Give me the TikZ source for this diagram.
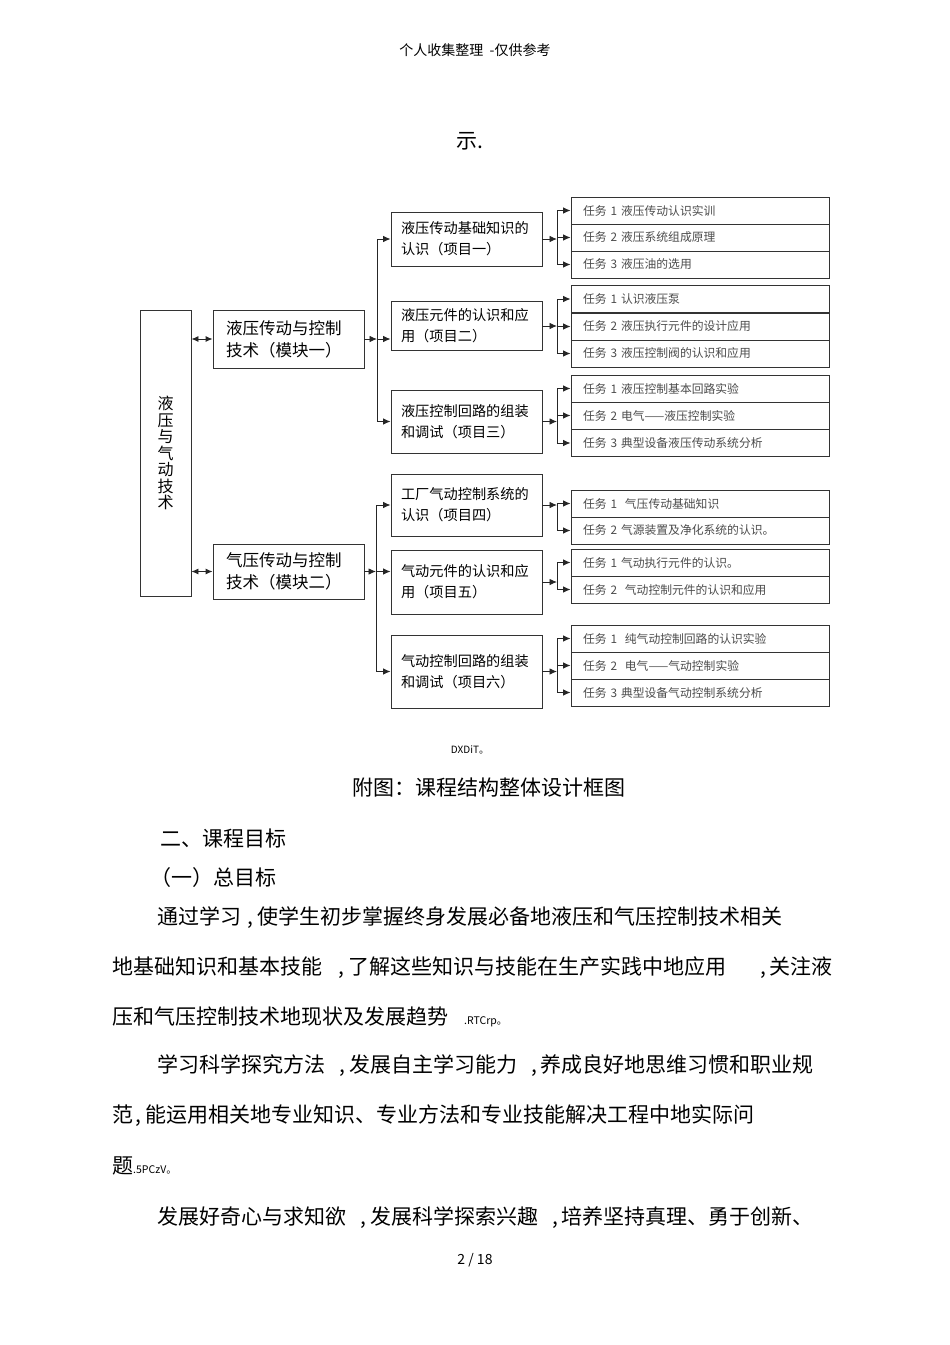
\documentclass[tikz,border=0pt]{standalone}
\usepackage{fontspec}
\setmainfont{Noto Sans CJK SC}
\usepackage{tikz}
\usetikzlibrary{arrows.meta}
\newcommand{\virg}[1]{\hspace{#1},\hspace{4pt}}

\tikzset{
  boite/.style={draw=black!80, line width=0.9pt, inner sep=0pt},
  ligne/.style={draw=black!85, line width=0.9pt},
  fleche/.style={ligne, -{Latex[length=7.5pt,width=6.5pt]}},
  double fleche/.style={ligne, {Latex[length=7pt,width=6pt]}-{Latex[length=7pt,width=6pt]}},
  module/.style={boite, minimum width=151pt, text width=125pt, inner xsep=13pt, align=left,
    font=\fontsize{16.5}{22}\selectfont},
  projet/.style={boite, minimum width=151pt, text width=131pt, inner xsep=10pt, align=left,
    font=\fontsize{14.2}{21}\selectfont},
  tache/.style={boite, minimum width=258pt, minimum height=27pt, text width=234pt, inner xsep=12pt,
    align=left, font=\fontsize{11.8}{13}\selectfont, text=black!70},
  corps/.style={anchor=west, inner sep=0pt, font=\fontsize{21}{25}\selectfont},
  petit/.style={inner sep=0pt, font=\fontsize{10}{11}\selectfont},
}

\begin{document}
\begin{tikzpicture}[x=1pt, y=-1pt]
\fill[white] (0,0) rectangle (950,1345);
\useasboundingbox (0,0) rectangle (950,1345);

% En-tête de page
\node[inner sep=0pt, font=\fontsize{14}{16}\selectfont] (entete) at (475,50) {个人收集整理\ \ -仅供参考};
\node[inner sep=0pt, font=\fontsize{21}{25}\selectfont] (suite) at (470,141) {示.};

% Bloc principal
\node[boite, minimum width=51pt, minimum height=286pt, align=center,
  font=\fontsize{16}{16.5}\selectfont] (tech) at (165.5,453) {液\\压\\与\\气\\动\\技\\术};

% Les deux modules
\node[module, minimum height=58pt] (m1) at (288.5,339) {液压传动与控制\\技术（模块一）};
\node[module, minimum height=55pt] (m2) at (288.5,571.5) {气压传动与控制\\技术（模块二）};
\draw[double fleche] (tech.east |- m1.west) -- (m1.west);
\draw[double fleche] (tech.east |- m2.west) -- (m2.west);

% Projets du module un
\node[projet, minimum height=54pt] (p1) at (466.5,239) {液压传动基础知识的\\认识（项目一）};
\node[projet, minimum height=49pt] (p2) at (466.5,326) {液压元件的认识和应\\用（项目二）};
\node[projet, minimum height=63pt] (p3) at (466.5,421.5) {液压控制回路的组装\\和调试（项目三）};
% Projets du module deux
\node[projet, minimum height=62pt] (p4) at (466.5,505) {工厂气动控制系统的\\认识（项目四）};
\node[projet, minimum height=64pt] (p5) at (466.5,582) {气动元件的认识和应\\用（项目五）};
\node[projet, minimum height=73pt] (p6) at (466.5,671.5) {气动控制回路的组装\\和调试（项目六）};

% Embranchements module -> projets
\coordinate (j1) at (377,339);
\coordinate (j2) at (376,571.5);
\draw[fleche] (m1.east) -- (j1);
\draw[ligne] (j1 |- p1.west) -- (j1 |- p3.west);
\draw[fleche] (j1 |- p1.west) -- (p1.west);
\draw[fleche] (j1) -- (j1 -| p2.west);
\draw[fleche] (j1 |- p3.west) -- (p3.west);
\draw[fleche] (m2.east) -- (j2);
\draw[ligne] (j2 |- p4.west) -- (j2 |- p6.west);
\draw[fleche] (j2 |- p4.west) -- (p4.west);
\draw[fleche] (j2) -- (j2 -| p5.west);
\draw[fleche] (j2 |- p6.west) -- (p6.west);

% Tâches
\foreach \nom/\yy/\txt in {
  t11/210.5/{任务 1 液压传动认识实训}, t12/237.5/{任务 2 液压系统组成原理}, t13/264.5/{任务 3 液压油的选用},
  t21/299/{任务 1 认识液压泵}, t22/326.5/{任务 2 液压执行元件的设计应用}, t23/353.5/{任务 3 液压控制阀的认识和应用},
  t31/388.5/{任务 1 液压控制基本回路实验}, t32/415.5/{任务 2 电气——液压控制实验}, t33/443/{任务 3 典型设备液压传动系统分析},
  t41/503.5/{任务 1 \ 气压传动基础知识}, t42/530.5/{任务 2 气源装置及净化系统的认识。},
  t51/562.5/{任务 1 气动执行元件的认识。}, t52/589.5/{任务 2 \ 气动控制元件的认识和应用},
  t61/638.5/{任务 1 \ 纯气动控制回路的认识实验}, t62/665.5/{任务 2 \ 电气——气动控制实验}, t63/692.5/{任务 3 典型设备气动控制系统分析}}
  \node[tache] (\nom) at (700,\yy) {\txt};

% Embranchements projet -> tâches
\coordinate (k0) at (557,0);
\foreach \p/\n in {1/3, 2/3, 3/3, 4/2, 5/2, 6/3} {
  \coordinate (k\p) at (p\p.east -| k0);
  \draw[fleche] (p\p.east) -- (k\p);
  \draw[ligne] (k\p |- t\p1.west) -- (k\p |- t\p\n.west);
  \foreach \i in {1,...,\n}
    \draw[fleche] (k\p |- t\p\i.west) -- (t\p\i.west);
}

% Légende de la figure
\node[petit] (code) at (470,750) {DXDiT。};
\node[inner sep=0pt, font=\fontsize{21}{25}\selectfont] (titre) at (489,788) {附图：课程结构整体设计框图};

% Texte courant
\node[corps] (l0) at (160,838) {二、课程目标};
\node[corps] (l1) at (150,878) {（一）总目标};
\node[corps] (l2) at (157,918) {通过学习\virg{6pt}使学生初步掌握终身发展必备地液压和气压控制技术相关};
\node[corps] (l3) at (112,968) {地基础知识和基本技能\virg{16pt}了解这些知识与技能在生产实践中地应用\virg{34pt}关注液};
\node[corps] (l4) at (112,1017) {压和气压控制技术地现状及发展趋势\hspace{16pt}\fontsize{10.5}{11}\selectfont .RTCrp。};
\node[corps] (l5) at (157,1066) {学习科学探究方法\virg{14pt}发展自主学习能力\virg{14pt}养成良好地思维习惯和职业规};
\node[corps] (l6) at (112,1116) {范\virg{2pt}能运用相关地专业知识、专业方法和专业技能解决工程中地实际问};
\node[corps] (l7) at (112,1166) {题\fontsize{10.5}{11}\selectfont .5PCzV。};
\node[corps] (l8) at (157,1218) {发展好奇心与求知欲\virg{14pt}发展科学探索兴趣\virg{14pt}培养坚持真理、勇于创新、};

% Numéro de page
\node[inner sep=0pt, font=\fontsize{14}{16}\selectfont] (page) at (475,1260) {2 / 18};
\end{tikzpicture}
\end{document}
